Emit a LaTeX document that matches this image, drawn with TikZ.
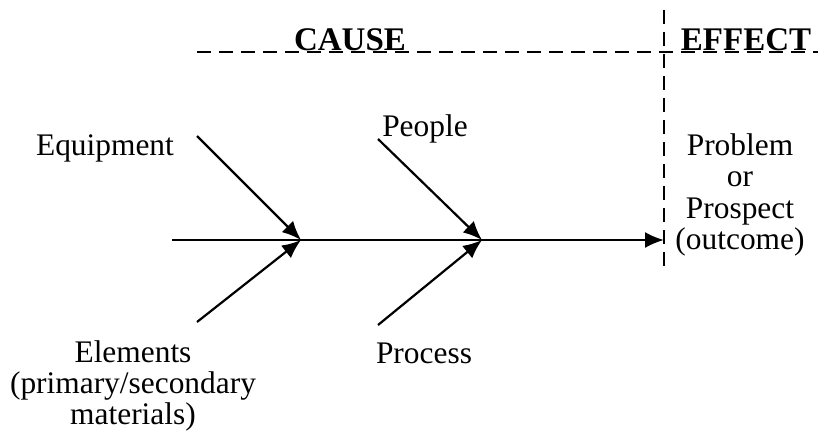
\documentclass[tikz,border=0pt]{standalone}
\usepackage{fontspec}
\setmainfont{Liberation Serif}
\usetikzlibrary{arrows.meta}

\begin{document}
\begin{tikzpicture}[
  x=0.5pt, y=-0.5pt,
  >={Latex[length=9.5pt,width=8pt]},
  every node/.style={font=\fontsize{15.7}{15.7}\selectfont, inner sep=0pt},
  bone/.style={->, line width=1.1pt},
  divider/.style={dash pattern=on 7pt off 4pt, line width=0.7pt},
  title/.style={font=\fontsize{16.5}{16.5}\selectfont\bfseries, anchor=base},
  lbl/.style={align=center},
]
  \useasboundingbox (0,0) rectangle (818,440);

  % Cause / effect dividers
  \coordinate (hl) at (197,52);
  \coordinate (hr) at (818,52);
  \coordinate (vt) at (664,10);
  \coordinate (vb) at (664,272);
  \draw[divider] (hl) -- (hr);
  \draw[divider] (vt) -- (vb);
  \node[title] (cause) at (350,50) {CAUSE};
  \node[title] (effect) at (746,50) {EFFECT};

  % Spine and joints
  \coordinate (tail) at (172,240);
  \coordinate (j1) at (301,240);
  \coordinate (j2) at (482,240);
  \coordinate (tip) at (664,240);
  \draw[bone] (tail) -- (tip);

  % Bones
  \coordinate (equip) at (197,136);
  \coordinate (elem) at (197,322);
  \coordinate (people) at (378,139);
  \coordinate (proc) at (378,325);
  \draw[bone] (equip) -- (j1);
  \draw[bone] (elem) -- (j1);
  \draw[bone] (people) -- (j2);
  \draw[bone] (proc) -- (j2);

  % Labels
  \node[lbl] (equipL) at (105,148) {Equipment};
  \node[lbl] (peopleL) at (425,129) {People};
  \node[lbl] (procL) at (424,353) {Process};
  \node[lbl] (elemL) at (133,386) {Elements\\(primary/secondary\\materials)};
  \node[lbl] (effL) at (740,195) {Problem\\or\\Prospect\\(outcome)};
\end{tikzpicture}
\end{document}
